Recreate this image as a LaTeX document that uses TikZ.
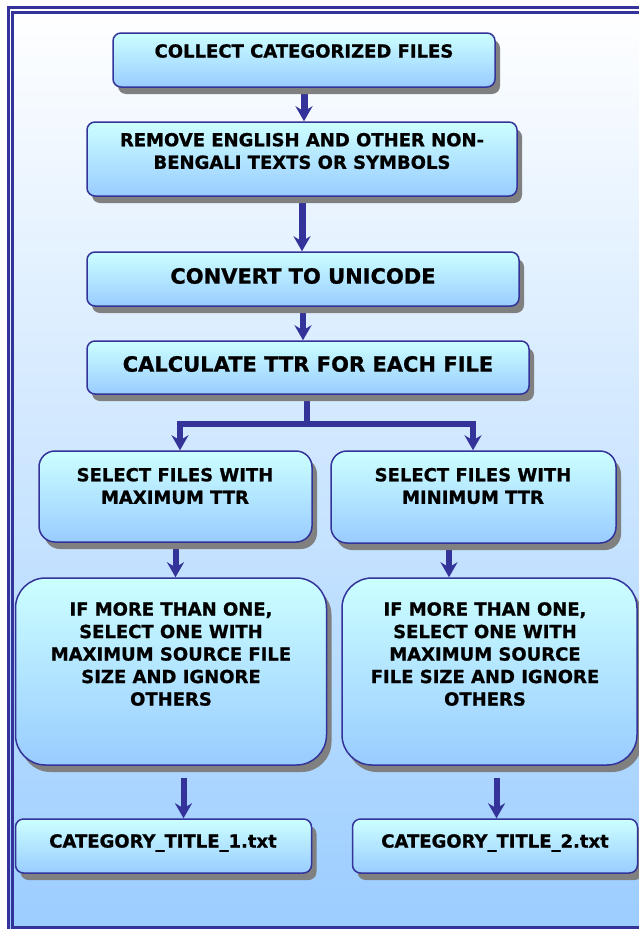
\documentclass[tikz,border=0pt]{standalone}
\usepackage{fontspec}
\setmainfont{DejaVu Sans}[BoldFeatures={FakeBold=0.9}]
\usetikzlibrary{arrows.meta,shadows,calc}
\definecolor{navy}{HTML}{333399}
\definecolor{skyb}{HTML}{99CCFF}
\definecolor{paleb}{HTML}{CCFFFF}
\definecolor{shadowgray}{HTML}{808080}
\pgfdeclarelayer{bg}
\pgfsetlayers{bg,main}
\tikzset{
  stepbox/.style={draw=navy, line width=1.5pt, top color=paleb, bottom color=skyb,
    drop shadow={shadow xshift=5pt, shadow yshift=-7pt, fill=shadowgray, opacity=1},
    rounded corners=8pt, inner sep=0pt},
  lbl/.style={font=\bfseries\fontsize{18}{22.5}\selectfont, align=center, inner sep=0pt, text=black},
  big/.style={font=\bfseries\fontsize{21}{25}\selectfont},
  arr/.style={draw=navy, line width=6pt, -{Stealth[length=15pt,width=17pt,inset=5pt]}},
  wire/.style={draw=navy, line width=6pt},
  frameline/.style={draw=navy, line width=3pt},
}
\begin{document}
\begin{tikzpicture}[x=1pt,y=-1pt]
\useasboundingbox (0,0) rectangle (639,929);
\clip (0,0) rectangle (639,929);

% boxes
\node[stepbox, minimum width=382pt, minimum height=54pt] (b1) at (304,60) {};
\node[stepbox, minimum width=430pt, minimum height=74pt] (b2) at (302,159) {};
\node[stepbox, minimum width=432pt, minimum height=54pt] (b3) at (303,279) {};
\node[stepbox, minimum width=442pt, minimum height=53pt] (b4) at (308,367.5) {};
\node[stepbox, rounded corners=16pt, minimum width=273pt, minimum height=91pt] (b5l) at (175.5,496.5) {};
\node[stepbox, rounded corners=16pt, minimum width=285pt, minimum height=92pt] (b5r) at (473.5,497) {};
\node[stepbox, rounded corners=30pt, minimum width=311pt, minimum height=187pt] (b6l) at (171,671.5) {};
\node[stepbox, rounded corners=30pt, minimum width=295pt, minimum height=187pt] (b6r) at (489.5,671.5) {};
\node[stepbox, minimum width=296pt, minimum height=54pt] (b7l) at (163.5,846) {};
\node[stepbox, minimum width=285pt, minimum height=54pt] (b7r) at (495,846) {};

% labels
\node[lbl] (t1) at (304,51) {COLLECT CATEGORIZED FILES};
\node[lbl] (t2) at (302,151) {REMOVE ENGLISH AND OTHER NON-\\BENGALI TEXTS OR SYMBOLS};
\node[lbl,big] (t3) at (303,276) {CONVERT TO UNICODE};
\node[lbl,big] (t4) at (308,364) {CALCULATE TTR FOR EACH FILE};
\node[lbl] (t5l) at (175,486) {SELECT FILES WITH\\MAXIMUM TTR};
\node[lbl] (t5r) at (473,486) {SELECT FILES WITH\\MINIMUM TTR};
\node[lbl] (t6l) at (171,654) {IF MORE THAN ONE,\\SELECT ONE WITH\\MAXIMUM SOURCE FILE\\SIZE AND IGNORE\\OTHERS};
\node[lbl] (t6r) at (485,654) {IF MORE THAN ONE,\\SELECT ONE WITH\\MAXIMUM SOURCE\\FILE SIZE AND IGNORE\\OTHERS};
\node[lbl] (t7l) at (163,843) {CATEGORY\_TITLE\_1.txt};
\node[lbl] (t7r) at (495,843) {CATEGORY\_TITLE\_2.txt};

\begin{pgfonlayer}{bg}
  % page background and double frame
  \fill[top color=white, bottom color=skyb] (8,7) rectangle (660,950);
  \draw[frameline] (8,7) rectangle (660,950);
  \draw[frameline] (12.5,12.5) rectangle (650,927.5);

  % connectors
  \draw[arr, line width=7pt] (b1.south) -- (b1.south |- b2.north);
  \draw[arr, line width=7pt] (b2.south) -- (b2.south |- b3.north);
  \draw[arr] (b3.south) -- (b3.south |- b4.north);
  \coordinate (j) at (307,423.5);
  \draw[wire] (b4.south -| j) -- (j);
  \draw[arr] (j) -| (b5l.north -| 180,0);
  \draw[arr] (j) -| (b5r.north -| 473,0);
  \draw[arr] (b5l.south) -- (b5l.south |- b6l.north);
  \draw[arr] (b5r.south -| 449,0) -- (b6r.north -| 449,0);
  \draw[arr, shorten <=12pt] (b6l.south -| 183.5,0) -- (b7l.north -| 183.5,0);
  \draw[arr, shorten <=12pt] (b6r.south -| 496.5,0) -- (b7r.north -| 496.5,0);
\end{pgfonlayer}
\end{tikzpicture}
\end{document}
